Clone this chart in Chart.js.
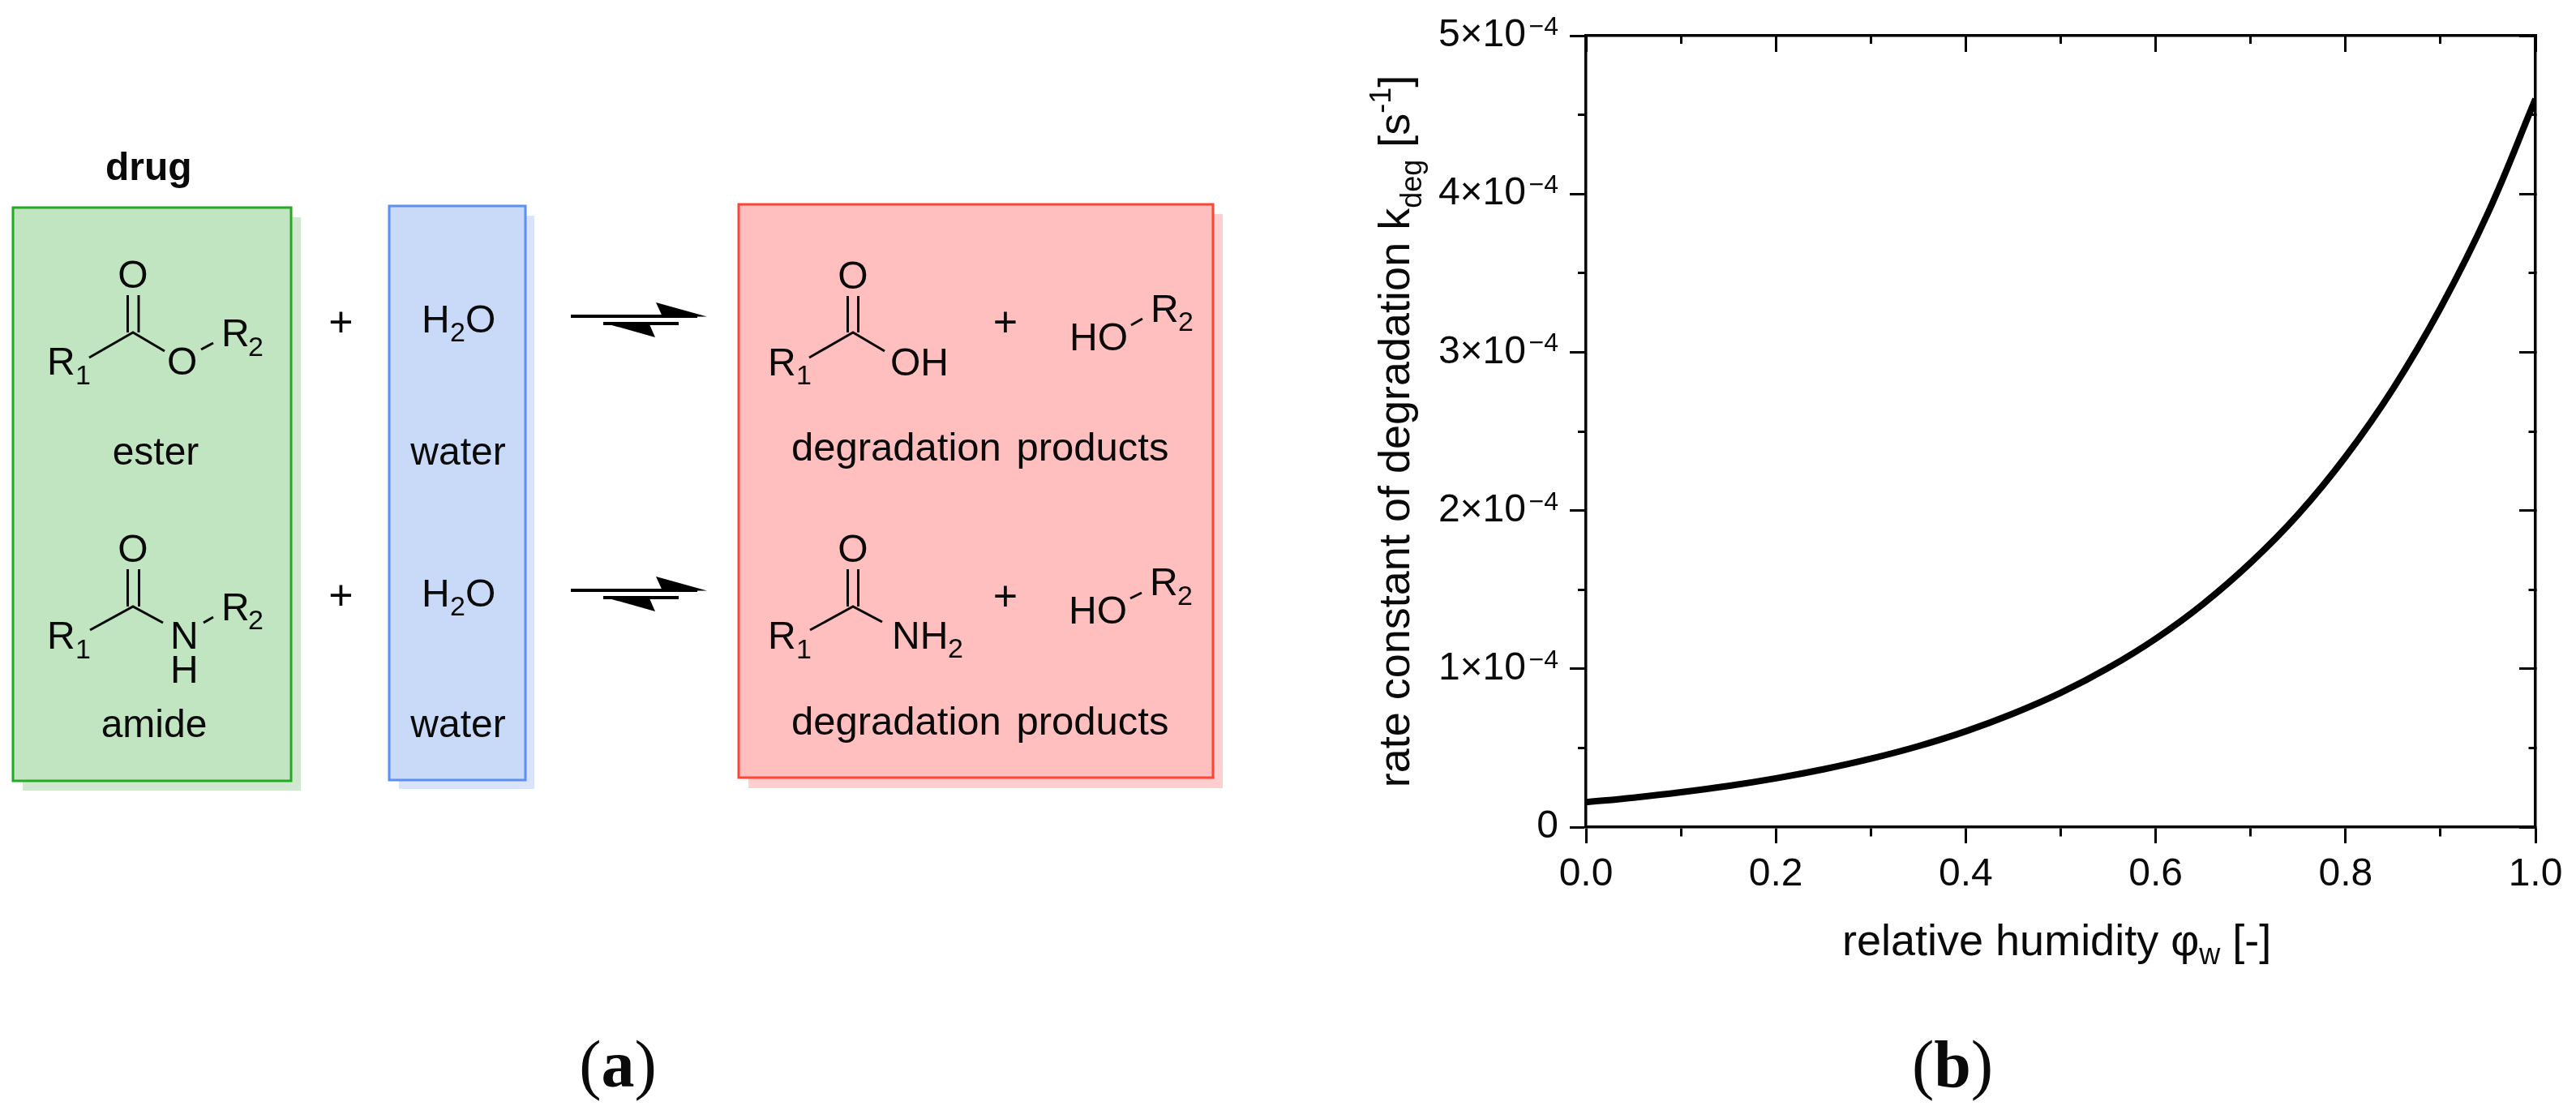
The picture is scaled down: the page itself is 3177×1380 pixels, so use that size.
<!DOCTYPE html>
<html>
<head>
<meta charset="utf-8">
<title>Degradation of ester and amide drugs</title>
<script src="https://cdn.jsdelivr.net/npm/chart.js@4"></script>
<style>
    html, body { margin: 0; padding: 0; background: #fff; }
    #page { position: relative; width: 3177px; height: 1380px; overflow: hidden; }
    #rateChart { position: absolute; left: 1640px; top: 0; }
    #overlay { position: absolute; left: 0; top: 0; }
    text { font-family: "Liberation Sans", Arial, sans-serif; font-size: 48px; fill: #0a0a0a; }
    text.s { font-size: 34px; }
    text.t { font-size: 54px; }
    text.d { font-size: 49px; word-spacing: 5px; }
    text.p { font-family: "Liberation Serif", serif; font-size: 82px; text-anchor: middle; }
    text.c { text-anchor: middle; }
    .bond { stroke: #0a0a0a; stroke-width: 3; fill: none; }
    .arrow { stroke: #000; stroke-width: 4; fill: none; }
</style>
</head>
<body>
<div id="page">
    <canvas id="rateChart" width="1537" height="1200"></canvas>

    <svg id="overlay" width="3177" height="1380" xmlns="http://www.w3.org/2000/svg">
        <!-- box shadows -->
        <rect x="28" y="268" width="343" height="707" fill="#cfe8cf"/>
        <rect x="492" y="266" width="167" height="707" fill="#d9e4fa"/>
        <rect x="923" y="264" width="585" height="708" fill="#ffcfcf"/>
        <!-- boxes -->
        <rect x="16" y="256" width="343" height="707" fill="#c1e5c1" stroke="#22aa22" stroke-width="3"/>
        <rect x="480" y="254" width="168" height="708" fill="#c9d9f8" stroke="#5b8ff0" stroke-width="3"/>
        <rect x="911" y="252" width="585" height="707" fill="#ffbfbf" stroke="#ff4433" stroke-width="3"/>

        <text x="130" y="222" style="font-weight:bold">drug</text>

        <!-- ester -->
        <text class="c" x="164" y="355">O</text>
        <path class="bond" d="M157.5 364V410M171 364V410M110 441L164 410L203 433M248 431L263 423"/>
        <text x="58" y="462">R</text><text class="s" x="93" y="474">1</text>
        <text x="206" y="462">O</text>
        <text x="273" y="427">R</text><text class="s" x="306" y="439">2</text>
        <text class="c" x="192" y="573">ester</text>

        <!-- amide -->
        <text class="c" x="164" y="693">O</text>
        <path class="bond" d="M157.5 702V748M171.5 702V748M111 777L164 748L201 768M251 768L263 761"/>
        <text x="58" y="800">R</text><text class="s" x="93" y="812">1</text>
        <text x="210" y="800">N</text>
        <text x="210" y="842">H</text>
        <text x="273" y="765">R</text><text class="s" x="306" y="776">2</text>
        <text class="c" x="190" y="909">amide</text>

        <!-- plus signs and water -->
        <text class="c" x="420.5" y="415" style="font-size:52px">+</text>
        <text class="c" x="420.5" y="752" style="font-size:52px">+</text>
        <text x="520" y="410">H</text><text class="s" x="555" y="421">2</text><text x="574" y="410">O</text>
        <text class="c" x="565" y="573">water</text>
        <text x="520" y="748">H</text><text class="s" x="555" y="759">2</text><text x="574" y="748">O</text>
        <text class="c" x="565" y="909">water</text>

        <!-- equilibrium arrows -->
        <g>
            <path class="arrow" d="M704 390H860M744 399H837"/>
            <path d="M809 373L872 390.5L817 390.5Z M744 398L801 400L808 416Z" fill="#000"/>
        </g>
        <g transform="translate(0,338)">
            <path class="arrow" d="M704 390H860M744 399H837"/>
            <path d="M809 373L872 390.5L817 390.5Z M744 398L801 400L808 416Z" fill="#000"/>
        </g>

        <!-- products, first row -->
        <text class="c" x="1052" y="356">O</text>
        <path class="bond" d="M1045.5 365V410M1058.5 365V410M998 441L1052 410L1091 433M1395 401L1409 393"/>
        <text x="947" y="463">R</text><text class="s" x="982" y="474">1</text>
        <text x="1098" y="463">OH</text>
        <text class="c" x="1240" y="415" style="font-size:52px">+</text>
        <text x="1319" y="432">HO</text>
        <text x="1419" y="397">R</text><text class="s" x="1453" y="408">2</text>
        <text class="d" x="976" y="568">degradation products</text>

        <!-- products, second row -->
        <text class="c" x="1052" y="693">O</text>
        <path class="bond" d="M1045.5 702V748M1058.5 702V748M999 777L1052 748L1088 767M1394 738L1408 731"/>
        <text x="947" y="800">R</text><text class="s" x="982" y="812">1</text>
        <text x="1100" y="800">NH</text><text class="s" x="1169" y="811">2</text>
        <text class="c" x="1240" y="753" style="font-size:52px">+</text>
        <text x="1318" y="769">HO</text>
        <text x="1418" y="734">R</text><text class="s" x="1452" y="746">2</text>
        <text class="d" x="976" y="906">degradation products</text>

        <!-- axis titles -->
        <text class="t" x="2272" y="1178">relative humidity φ<tspan dy="11" style="font-size:36px">w</tspan><tspan dy="-11"> [-]</tspan></text>
        <text class="t" transform="translate(1738,532) rotate(-90)" text-anchor="middle">rate constant of degradation k<tspan dy="15" style="font-size:36px">deg</tspan><tspan dy="-15"> [s</tspan><tspan dy="-23" style="font-size:36px">-1</tspan><tspan dy="23">]</tspan></text>

        <!-- panel labels -->
        <text class="p" x="762" y="1340">(<tspan style="font-weight:bold">a</tspan>)</text>
        <text class="p" x="2408" y="1340">(<tspan style="font-weight:bold">b</tspan>)</text>
    </svg>
</div>

<script>
// values, every 0.05 of relative humidity
const humidity = [0, 0.05, 0.1, 0.15, 0.2, 0.25, 0.3, 0.35, 0.4, 0.45, 0.5,
    0.55, 0.6, 0.65, 0.7, 0.75, 0.8, 0.85, 0.9, 0.95, 1];
const rateConstant = [1.57e-5, 1.86e-5, 2.2e-5, 2.6e-5, 3.08e-5, 3.65e-5, 4.32e-5, 5.11e-5, 6.05e-5, 7.17e-5, 8.48e-5,
    1.005e-4, 1.19e-4, 1.41e-4, 1.67e-4, 1.975e-4, 2.34e-4, 2.77e-4, 3.28e-4, 3.88e-4, 4.6e-4];

const xTickLabels = ['0.0', '', '0.2', '', '0.4', '', '0.6', '', '0.8', '', '1.0'];
const yTickLabels = ['0', '', '1×10', '', '2×10', '', '3×10', '', '4×10', '', '5×10'];
const yTickExponents = ['', '', '−4', '', '−4', '', '−4', '', '−4', '', '−4'];

const fontFamily = '"Liberation Sans", Arial, sans-serif';
const tickLength = 20;
const yTickPadding = 14;

// major ticks are 20px long, the minor ones show only the 10px next to the axis line
function tickGrid(length, gapFirst) {
    return {
        drawOnChartArea: false,
        drawTicks: true,
        tickLength: length,
        tickWidth: 3,
        tickColor: '#000',
        tickBorderDash: function(ctx) { return ctx.index % 2 ? (gapFirst ? [10, 10] : [10, 20]) : []; },
        tickBorderDashOffset: function(ctx) { return ctx.index % 2 && gapFirst ? 10 : 0; }
    };
}

const axisLine = { display: true, width: 3.5, color: '#000' };

// canvas text has no superscript, so the exponents go in after the axis is drawn
const exponentPlugin = {
    id: 'exponents',
    afterDraw: function(chart) {
        const scale = chart.scales.y;
        const ctx = chart.ctx;
        ctx.save();
        ctx.font = '32px ' + fontFamily;
        ctx.fillStyle = '#0a0a0a';
        ctx.textAlign = 'right';
        ctx.textBaseline = 'alphabetic';
        yTickExponents.forEach(function(exponent, i) {
            ctx.fillText(exponent, scale.right - tickLength - yTickPadding, scale.getPixelForTick(i) - 1);
        });
        ctx.restore();
    }
};

new Chart(document.getElementById('rateChart'), {
    type: 'line',
    data: {
        labels: humidity,
        datasets: [{
            data: humidity.map(function(h, i) { return { x: h, y: rateConstant[i] }; }),
            borderColor: '#000',
            borderWidth: 8,
            pointRadius: 0,
            tension: 0.4,
            clip: 0
        }]
    },
    plugins: [exponentPlugin],
    options: {
        responsive: false,
        animation: false,
        devicePixelRatio: 1,
        layout: { padding: { top: 44, right: 50, bottom: 80, left: 0 } },
        plugins: { legend: { display: false }, tooltip: { enabled: false } },
        scales: {
            x: {
                type: 'linear', min: 0, max: 1,
                border: axisLine,
                grid: tickGrid(tickLength, false),
                ticks: {
                    stepSize: 0.1, autoSkip: false, maxRotation: 0, padding: 10,
                    color: '#0a0a0a', font: { family: fontFamily, size: 48 },
                    callback: function(value, index) { return xTickLabels[index]; }
                },
                afterFit: function(scale) { scale.height = 100; }
            },
            y: {
                type: 'linear', min: 0, max: 5e-4,
                border: axisLine,
                grid: tickGrid(tickLength, true),
                ticks: {
                    stepSize: 5e-5, autoSkip: false, padding: yTickPadding,
                    color: '#0a0a0a', font: { family: fontFamily, size: 48 },
                    // three trailing spaces leave room for the exponent
                    callback: function(value, index) {
                        return yTickLabels[index] + (yTickExponents[index] ? '   ' : '');
                    }
                },
                afterFit: function(scale) { scale.width = 316; }
            },
            // top and right axes only mirror the ticks, pointing inwards
            x2: {
                type: 'linear', position: 'top', min: 0, max: 1,
                border: axisLine,
                grid: tickGrid(-tickLength, true),
                ticks: { display: false, stepSize: 0.1, autoSkip: false },
                afterFit: function(scale) { scale.height = 0; }
            },
            y2: {
                type: 'linear', position: 'right', min: 0, max: 5e-4,
                border: axisLine,
                grid: tickGrid(-tickLength, false),
                ticks: { display: false, stepSize: 5e-5, autoSkip: false },
                afterFit: function(scale) { scale.width = 0; }
            }
        }
    }
});
</script>
</body>
</html>
